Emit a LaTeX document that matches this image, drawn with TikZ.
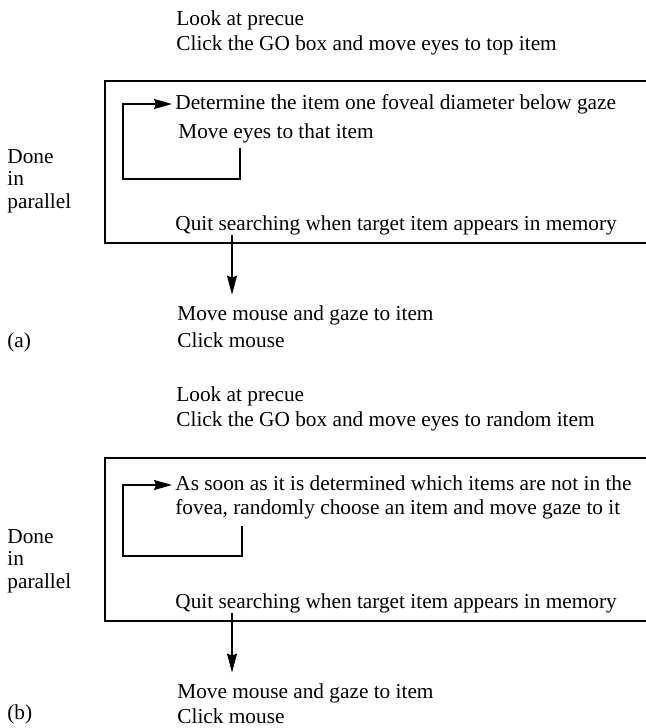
\documentclass[tikz,border=0pt]{standalone}
\usepackage{fontspec}
\setmainfont{Liberation Serif}
\usetikzlibrary{arrows.meta,positioning}

\begin{document}
\begin{tikzpicture}
    [
      x=0.5pt, y=-0.5pt,
      line/.style={anchor=west, inner sep=0pt, text height=7.6pt, text depth=2.4pt,
        font=\fontsize{10.65}{12}\selectfont},
      para/.style={anchor=west, inner sep=0pt, align=left,
        font=\fontsize{10.65}{12}\selectfont},
      side/.style={anchor=west, inner sep=0pt, align=left,
        font=\fontsize{10.65}{11.25}\selectfont},
      frame/.style={line width=1pt},
      back/.style={->, >={Stealth[length=9pt,width=5pt,inset=1pt]}, line width=0.8pt,
        shorten >=1.5pt},
      post/.style={->, >={Stealth[length=9.5pt,width=5pt,inset=1pt]}, line width=0.8pt}
    ]
    \useasboundingbox (0,0) rectangle (646,728);

    % (a) top-to-bottom search
    \node (precuea) [line] at (176, 20) {Look at precue};
    \node (goa) [line] at (176, 45) {Click the GO box and move eyes to top item};
    \node (deta) [line] at (175,104) {Determine the item one foveal diameter below gaze};
    \node (movea) [line] at (178,133) {Move eyes to that item};
    \node (quita) [line] at (175,225) {Quit searching when target item appears in memory};
    \node (mousea) [line] at (177,315) {Move mouse and gaze to item};
    \node (clicka) [line] at (177,342) {Click mouse};
    \node (laba) [line] at (7,342) {(a)};
    \node (donea) [side] at (7,181) {Done\\in\\parallel};
    \coordinate (turna) at (240,179);
    \coordinate (dropa) at (232,0);

    \draw[frame] (646,81) -| (105,243) -- (646,243);
    \draw[back, shorten <=2.5pt] (movea.south -| turna) -- (turna)
      -| ([xshift=-26pt]deta.west) -- (deta.west);
    \draw[post] (quita.south -| dropa) -- ([yshift=5pt]mousea.north -| dropa);

    % (b) random search
    \node (precueb) [line] at (176,396) {Look at precue};
    \node (gob) [line] at (176,421) {Click the GO box and move eyes to random item};
    \node (soonb) [para] at (175,497) {As soon as it is determined which items are not in the\\
      fovea, randomly choose an item and move gaze to it};
    \node (quitb) [line] at (175,603) {Quit searching when target item appears in memory};
    \node (mouseb) [line] at (177,693) {Move mouse and gaze to item};
    \node (clickb) [line] at (177,718) {Click mouse};
    \node (labb) [line] at (7,714) {(b)};
    \node (doneb) [side] at (7,561) {Done\\in\\parallel};
    \coordinate (turnb) at (242,556);
    \coordinate (dropb) at (232,0);

    \draw[frame] (646,458) -| (105,621) -- (646,621);
    \draw[back, shorten <=3.5pt] (soonb.south -| turnb) -- (turnb)
      -| ([xshift=-26pt, yshift=6pt]soonb.west) -- ([yshift=6pt]soonb.west);
    \draw[post] (quitb.south -| dropb) -- ([yshift=5pt]mouseb.north -| dropb);

\end{tikzpicture}
\end{document}
